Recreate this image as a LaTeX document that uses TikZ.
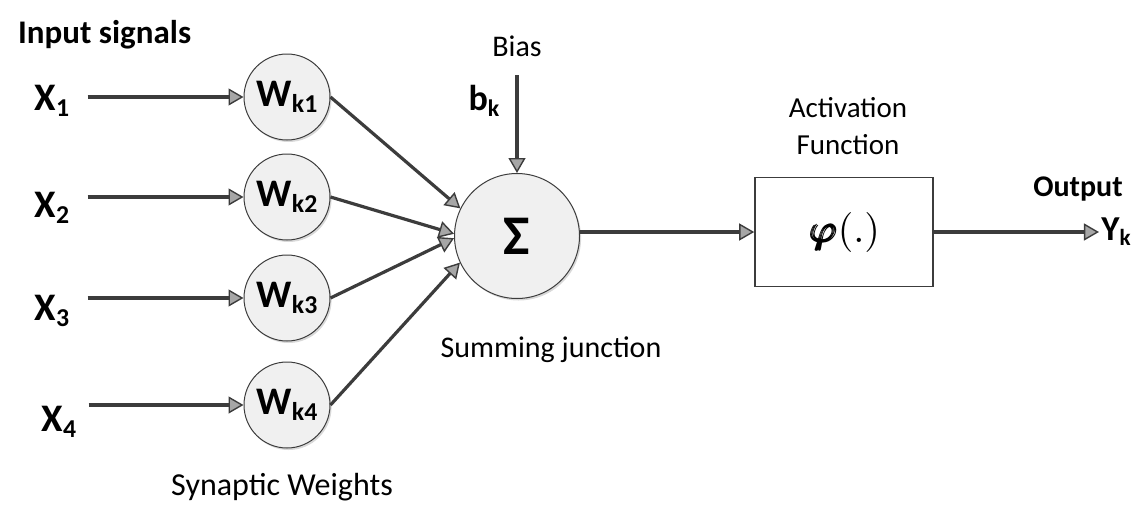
\documentclass[tikz,border=0pt]{standalone}
\usepackage{amsmath,amssymb,bm}
\usepackage{fontspec}
\setmainfont{Carlito}
\usepackage{tikz}
\usetikzlibrary{arrows.meta,shadows}

\definecolor{linegray}{HTML}{3C3C3C}
\newcommand{\lowsub}[1]{\raisebox{-0.15em}{\scalebox{0.66}{#1}}}
\newcommand{\heavyphi}{\rlap{$\varphi$}\kern0.3pt\rlap{$\varphi$}\kern0.3pt\rlap{\raisebox{0.15pt}{$\varphi$}}\kern0.3pt$\varphi$}

\begin{document}
\begin{tikzpicture}[x=0.5pt,y=-0.5pt,
    arr/.style={-{Triangle[length=7.5pt,width=8.5pt,fill=gray!70,line width=0.7pt]}, line width=1.6pt, draw=linegray},
    wcirc/.style={circle, draw=linegray, line width=0.5pt, fill=black!6, minimum size=43pt, inner sep=0pt,
        font=\fontsize{19.5}{20}\selectfont\bfseries,
        drop shadow={shadow xshift=0.8pt, shadow yshift=-1pt, opacity=0.3}},
    inlabel/.style={inner sep=2pt, font=\fontsize{19.5}{20}\selectfont\bfseries},
    plain/.style={font=\fontsize{15}{16}\selectfont}]
    \useasboundingbox (0,0) rectangle (1135,504);

    \node[anchor=west, font=\fontsize{16.5}{18}\selectfont\bfseries] (title) at (11,35) {Input signals};

    % inputs
    \node[inlabel] (x1) at (52,101) {X\lowsub{1}};
    \node[inlabel] (x2) at (52,208) {X\lowsub{2}};
    \node[inlabel] (x3) at (52,311) {X\lowsub{3}};
    \node[inlabel] (x4) at (59,422) {X\lowsub{4}};

    % synaptic weights
    \node[wcirc] (w1) at (287,97) {W\lowsub{k1}};
    \node[wcirc] (w2) at (287,197) {W\lowsub{k2}};
    \node[wcirc] (w3) at (287,298) {W\lowsub{k3}};
    \node[wcirc] (w4) at (287,405) {W\lowsub{k4}};
    \node[plain, font=\fontsize{16}{17}\selectfont] (syn) at (282,487) {Synaptic Weights};

    \draw[arr, shorten <=7pt] (w1 -| x1.east) -- (w1);
    \draw[arr, shorten <=7pt] (w2 -| x2.east) -- (w2);
    \draw[arr, shorten <=7pt] (w3 -| x3.east) -- (w3);
    \draw[arr, shorten <=4pt] (w4 -| x4.east) -- (w4);

    % summing junction
    \node[wcirc, minimum size=62.5pt, font=\fontsize{28}{28}\selectfont\bfseries] (sig) at (517,236) {Σ};
    \node[plain] (sumlab) at (551,350) {Summing junction};

    \draw[arr] (w1.east) -- (sig.154);
    \draw[arr] (w2.east) -- (sig.178);
    \draw[arr] (w3.east) -- (sig.182);
    \draw[arr] (w4.east) -- (sig.205);

    % bias
    \node[plain] (bias) at (517,46) {Bias};
    \node[font=\fontsize{18}{18}\selectfont\bfseries] (bk) at (484,101) {b\lowsub{k}};
    \draw[arr, shorten <=6pt] (bias) -- (sig);

    % activation
    \node[draw=linegray, line width=0.8pt, minimum width=89pt, minimum height=54.5pt] (act) at (844,232)
        {\scalebox{2}{\heavyphi$(.)$}};
    \node[plain, align=center, font=\fontsize{14.5}{18.5}\selectfont] (actlab) at (848,126) {Activation\\Function};
    \draw[arr] (sig.east |- act) -- (act.west);

    % output
    \node[font=\fontsize{15}{16}\selectfont\bfseries] (out) at (1078,189) {Output};
    \node[inner sep=1pt, font=\fontsize{17.5}{18}\selectfont\bfseries] (yk) at (1116,232) {Y\lowsub{k}};
    \draw[arr] (act.east) -- (act.east -| yk.west);
\end{tikzpicture}
\end{document}
